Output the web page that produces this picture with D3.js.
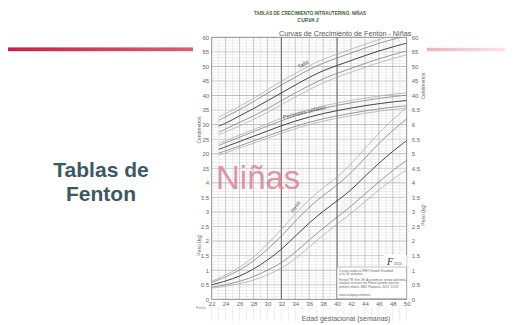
<!DOCTYPE html>
<html>
<head>
<meta charset="utf-8">
<script src="https://cdn.jsdelivr.net/npm/d3@7"></script>
<style>
  html, body { margin: 0; padding: 0; background: #fff; }
  svg { display: block; font-family: "Liberation Sans", Arial, sans-serif; }
</style>
</head>
<body>
<svg id="slide" width="516" height="325"></svg>
<script>
// Fenton preterm growth chart, girls: percentiles 3, 10, 50, 90, 97
const percentiles = ["p3", "p10", "p50", "p90", "p97"];

// Weight (kg), weeks 22..50 every 2 weeks
const weightWeeks = [22, 24, 26, 28, 30, 32, 34, 36, 38, 40, 42, 44, 46, 48, 50];
const weightP3  = [0.38, 0.45, 0.54, 0.66, 0.84, 1.07, 1.40, 1.80, 2.20, 2.58, 2.95, 3.35, 3.75, 4.12, 4.45];
const weightP10 = [0.42, 0.50, 0.62, 0.78, 1.00, 1.26, 1.62, 2.04, 2.44, 2.82, 3.20, 3.62, 4.03, 4.42, 4.77];
const weightP50 = [0.50, 0.63, 0.80, 1.04, 1.35, 1.72, 2.17, 2.62, 3.02, 3.38, 3.76, 4.22, 4.67, 5.08, 5.45];
const weightP90 = [0.58, 0.77, 1.01, 1.32, 1.72, 2.17, 2.68, 3.16, 3.56, 3.93, 4.35, 4.85, 5.35, 5.80, 6.20];
const weightP97 = [0.62, 0.84, 1.10, 1.45, 1.90, 2.40, 2.93, 3.42, 3.83, 4.20, 4.65, 5.18, 5.70, 6.17, 6.60];

// Length and head circumference (cm), weeks 23..50
const cmWeeks = [23, 24, 26, 28, 30, 32, 34, 36, 38, 40, 42, 44, 46, 48, 50];
const lengthP3  = [26.5, 27.5, 29.5, 31.8, 34.2, 36.8, 39.5, 42.0, 44.3, 46.3, 48.0, 49.7, 51.3, 52.7, 54.0];
const lengthP10 = [27.4, 28.5, 30.8, 33.0, 35.5, 38.2, 40.9, 43.4, 45.7, 47.6, 49.3, 51.0, 52.6, 54.0, 55.3];
const lengthP50 = [29.5, 30.5, 33.0, 35.5, 38.2, 40.9, 43.6, 46.2, 48.5, 50.3, 52.0, 53.7, 55.3, 56.7, 58.0];
const lengthP90 = [31.5, 32.7, 35.2, 37.9, 40.8, 43.6, 46.3, 48.9, 51.1, 52.9, 54.6, 56.3, 57.9, 59.3, 60.6];
const lengthP97 = [32.5, 33.8, 36.3, 39.0, 42.0, 44.9, 47.6, 50.2, 52.4, 54.2, 55.9, 57.6, 59.2, 60.6, 61.9];

const headP3  = [19.5, 20.3, 22.0, 23.6, 25.3, 27.0, 28.6, 30.0, 31.2, 32.2, 33.1, 33.9, 34.6, 35.2, 35.7];
const headP10 = [20.2, 21.0, 22.7, 24.4, 26.1, 27.8, 29.4, 30.8, 32.0, 33.0, 33.9, 34.7, 35.4, 36.0, 36.5];
const headP50 = [21.5, 22.4, 24.2, 26.0, 27.8, 29.6, 31.2, 32.6, 33.8, 34.8, 35.7, 36.5, 37.2, 37.8, 38.3];
const headP90 = [22.8, 23.8, 25.7, 27.6, 29.5, 31.3, 33.0, 34.4, 35.6, 36.6, 37.5, 38.3, 39.0, 39.6, 40.1];
const headP97 = [23.5, 24.5, 26.4, 28.3, 30.3, 32.2, 33.8, 35.2, 36.4, 37.4, 38.3, 39.1, 39.8, 40.4, 40.9];

// Tick labels
const xTicks = [22, 24, 26, 28, 30, 32, 34, 36, 38, 40, 42, 44, 46, 48, 50];
const leftCmTicks = [60, 55, 50, 45, 40, 35, 30, 25, 20, 15];
const leftKgTicks = [4, 3.5, 3, 2.5, 2, 1.5, 1, 0.5, 0];
const rightCmTicks = [60, 55, 50, 45, 40];
const rightKgTicks = [6.5, 6, 5.5, 5, 4.5, 4, 3.5, 3, 2.5, 2, 1.5, 1, 0.5, 0];

const svg = d3.select("#slide");

// ---- slide decoration ----
const defs = svg.append("defs");
const gl = defs.append("linearGradient").attr("id", "barLeft");
gl.append("stop").attr("offset", "0%").attr("stop-color", "#cc1d4c");
gl.append("stop").attr("offset", "100%").attr("stop-color", "#d9606f");
const gr = defs.append("linearGradient").attr("id", "barRight");
gr.append("stop").attr("offset", "0%").attr("stop-color", "#f0b3bd");
gr.append("stop").attr("offset", "100%").attr("stop-color", "#fae3e6");
svg.append("rect").attr("x", 8).attr("y", 47.4).attr("width", 185).attr("height", 3.8).attr("fill", "url(#barLeft)");
svg.append("rect").attr("x", 427).attr("y", 47.8).attr("width", 78).attr("height", 3.4).attr("fill", "url(#barRight)");

svg.append("text").attr("x", 101).attr("y", 177).attr("text-anchor", "middle")
  .attr("font-size", 21).attr("font-weight", "bold").attr("fill", "#3b5866").text("Tablas de");
svg.append("text").attr("x", 101).attr("y", 201).attr("text-anchor", "middle")
  .attr("font-size", 21).attr("font-weight", "bold").attr("fill", "#3b5866").text("Fenton");

// header of the sheet
svg.append("text").attr("x", 310).attr("y", 15).attr("font-size", 4.6).attr("font-weight", "bold")
  .attr("text-anchor", "middle").attr("fill", "#3f5f36")
  .text("TABLAS DE CRECIMIENTO INTRAUTERINO. NIÑAS");
svg.append("text").attr("x", 308).attr("y", 22).attr("font-size", 5).attr("font-style", "italic").attr("font-weight", "bold")
  .attr("text-anchor", "middle").attr("fill", "#3f5f36").text("CURVA 2");

// ---- chart scales ----
const x = d3.scaleLinear().domain([22, 50]).range([211.7, 406.7]);
const row = d3.scaleLinear().domain([0, 18]).range([37.3, 299.3]);
const yCm = d3.scaleLinear().domain([60, 15]).range([row(0), row(9)]);
const yKg = d3.scaleLinear().domain([0, 4]).range([row(18), row(10)]);

const chart = svg.append("g");

// grid
const grid = chart.append("g");
const minorRows = d3.range(0, 18.001, 0.2).map(v => Math.round(v * 10) / 10);
grid.selectAll("line.hminor").data(minorRows.filter(v => Math.abs(v - Math.round(v)) > 1e-6))
  .join("line").attr("x1", x(22)).attr("x2", x(50))
  .attr("y1", d => row(d)).attr("y2", d => row(d))
  .attr("stroke", "#dedede").attr("stroke-width", 0.5);
const weeks = d3.range(22, 51);
grid.selectAll("line.vminor").data(weeks)
  .join("line").attr("y1", row(0)).attr("y2", row(18))
  .attr("x1", d => x(d)).attr("x2", d => x(d))
  .attr("stroke", d => d % 2 === 0 ? "#b4b4b4" : "#dadada")
  .attr("stroke-width", d => d % 2 === 0 ? 0.7 : 0.5);
grid.selectAll("line.hmajor").data(d3.range(0, 19))
  .join("line").attr("x1", x(22)).attr("x2", x(50))
  .attr("y1", d => row(d)).attr("y2", d => row(d))
  .attr("stroke", d => d % 2 === 0 ? "#a0a0a0" : "#b8b8b8")
  .attr("stroke-width", 0.7);
grid.selectAll("line.vheavy").data([32, 40])
  .join("line").attr("y1", row(0)).attr("y2", row(18))
  .attr("x1", d => x(d)).attr("x2", d => x(d))
  .attr("stroke", "#666").attr("stroke-width", 1);
grid.append("rect").attr("x", x(22)).attr("y", row(0)).attr("width", x(50) - x(22)).attr("height", row(18) - row(0))
  .attr("fill", "none").attr("stroke", "#888").attr("stroke-width", 0.7);

// "Fecha" row under the axis
chart.append("g").selectAll("line").data(weeks)
  .join("line").attr("y1", 306).attr("y2", 321)
  .attr("x1", d => x(d)).attr("x2", d => x(d))
  .attr("stroke", "#e0e0e0").attr("stroke-width", 0.6);
chart.append("text").attr("x", 196).attr("y", 309).attr("font-size", 3.5).attr("fill", "#777").text("Fecha");

// big watermark
svg.append("text").attr("x", 216).attr("y", 189).attr("font-size", 33)
  .attr("fill", "#d98aa2").attr("fill-opacity", 0.92).text("Niñas");

// curves
const clip = defs.append("clipPath").attr("id", "plotClip");
clip.append("rect").attr("x", x(22)).attr("y", row(0)).attr("width", x(50) - x(22)).attr("height", row(18) - row(0));
const curves = chart.append("g").attr("clip-path", "url(#plotClip)");

const styleFor = {
  p3:  { stroke: "#a6a6a6", width: 0.7 },
  p10: { stroke: "#7a7a7a", width: 0.75 },
  p50: { stroke: "#444444", width: 1.0 },
  p90: { stroke: "#7a7a7a", width: 0.75 },
  p97: { stroke: "#a6a6a6", width: 0.7 }
};

function drawSet(weeksArr, seriesList, yScale) {
  seriesList.forEach((vals, i) => {
    const pts = weeksArr.map((w, j) => [w, vals[j]]);
    const line = d3.line().x(d => x(d[0])).y(d => yScale(d[1])).curve(d3.curveCatmullRom.alpha(0.5));
    const st = styleFor[percentiles[i]];
    curves.append("path").attr("d", line(pts)).attr("fill", "none")
      .attr("stroke", st.stroke).attr("stroke-width", st.width);
  });
}
drawSet(cmWeeks, [lengthP3, lengthP10, lengthP50, lengthP90, lengthP97], yCm);
drawSet(cmWeeks, [headP3, headP10, headP50, headP90, headP97], yCm);
drawSet(weightWeeks, [weightP3, weightP10, weightP50, weightP90, weightP97], yKg);

// curve labels
const lab = (t, cx, cy, rot) => chart.append("text")
  .attr("transform", `translate(${cx},${cy}) rotate(${rot})`)
  .attr("text-anchor", "middle").attr("font-size", 5.5).attr("fill", "#555").text(t);
lab("Talla", 304, 66, -28);
lab("Perímetro cefálico", 305, 114, -14);
lab("Peso", 297, 208, -58);

// title
chart.append("text").attr("x", 279).attr("y", 36).attr("font-size", 7.2).attr("fill", "#555")
  .text("Curvas de Crecimiento de Fenton - Niñas");

// axes
function axisText(g) {
  g.select(".domain").remove();
  g.selectAll(".tick line").remove();
  g.selectAll("text").attr("font-size", 6).attr("fill", "#666").attr("font-family", "Liberation Sans, Arial, sans-serif");
}
const fmt = d => String(d);
chart.append("g").attr("transform", `translate(${x(22) - 1},0)`)
  .call(d3.axisLeft(yCm).tickValues(leftCmTicks).tickFormat(fmt).tickSize(0).tickPadding(1.5)).call(axisText);
chart.append("g").attr("transform", `translate(${x(22) - 1},0)`)
  .call(d3.axisLeft(yKg).tickValues(leftKgTicks).tickFormat(fmt).tickSize(0).tickPadding(1.5)).call(axisText);
chart.append("g").attr("transform", `translate(${x(50) + 3.5},0)`)
  .call(d3.axisRight(yCm).tickValues(rightCmTicks).tickFormat(fmt).tickSize(0).tickPadding(1.5)).call(axisText);
chart.append("g").attr("transform", `translate(${x(50) + 3.5},0)`)
  .call(d3.axisRight(yKg).tickValues(rightKgTicks).tickFormat(fmt).tickSize(0).tickPadding(1.5)).call(axisText);
chart.append("g").attr("transform", `translate(0,${row(18) + 1})`)
  .call(d3.axisBottom(x).tickValues(xTicks).tickFormat(fmt).tickSize(0).tickPadding(1.5)).call(axisText);

const vlab = (t, cx, cy) => chart.append("text")
  .attr("transform", `translate(${cx},${cy}) rotate(-90)`)
  .attr("text-anchor", "middle").attr("font-size", 5).attr("fill", "#666").text(t);
vlab("Centímetros", 201, 130);
vlab("Peso (kg)", 201, 245);
vlab("Centímetros", 425, 86);
vlab("Peso (kg)", 425, 215);

chart.append("text").attr("x", 346).attr("y", 321).attr("text-anchor", "middle")
  .attr("font-size", 7).attr("fill", "#666").text("Edad gestacional (semanas)");

// info box
chart.append("rect").attr("x", 384).attr("y", 255).attr("width", 22.7).attr("height", 12).attr("fill", "#fff");
chart.append("text").attr("x", 387).attr("y", 265).attr("font-size", 10).attr("font-style", "italic")
  .attr("font-family", "Liberation Serif, serif").attr("fill", "#333").text("F");
chart.append("text").attr("x", 394).attr("y", 265).attr("font-size", 3.5).attr("fill", "#555").text("2013");
chart.append("rect").attr("x", 337).attr("y", 267).attr("width", 69.7).attr("height", 31.5)
  .attr("fill", "#fff").attr("stroke", "#888").attr("stroke-width", 0.5);
const info = [
  [271.5, "Curvas unidas al WHO Growth Standard"],
  [275, "a las 50 semanas."],
  [281, "Fenton TR, Kim JH. A systematic review and meta-"],
  [284.3, "analysis to revise the Fenton growth chart for"],
  [287.6, "preterm infants. BMC Pediatrics 2013; 13:59."],
  [295.5, "www.ucalgary.ca/fenton"]
];
chart.append("g").selectAll("text").data(info).join("text")
  .attr("x", 339).attr("y", d => d[0]).attr("font-size", 3).attr("fill", "#666").text(d => d[1]);
</script>
</body>
</html>
